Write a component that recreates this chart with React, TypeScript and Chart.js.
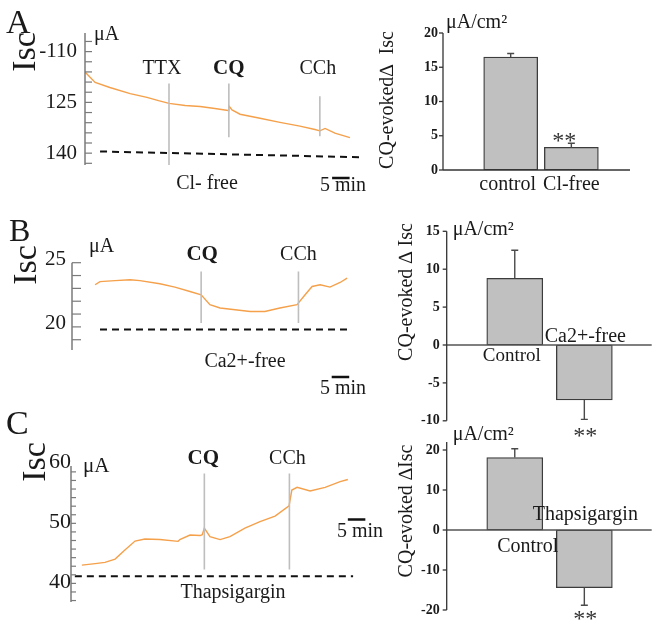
import React, { useEffect, useRef } from 'react';
import { Chart, registerables } from 'chart.js';

Chart.register(...registerables);

const W = 658;
const H = 627;
const SERIF = '"Liberation Serif", "Times New Roman", Times, serif';
const ORANGE = '#F5A04A';
const EVENT_GRAY = '#BEBEBE';
const INK = '#1a1a1a';

// ---------------- DATA ----------------
// Panel A – trace (time in min, Isc in µA)
const traceATime = [0, 2.9, 7.1, 12.9, 17.7, 21, 24, 28.6, 32.9, 37.1, 40.9, 41.1, 42, 44.3, 50, 55.7, 61.4, 65.7, 67.1, 68.6, 71.4, 75.7];
const traceAValue = [116, 119.1, 120.6, 122.4, 123.5, 124.5, 125.3, 125.9, 126.2, 126.8, 127.4, 126.0, 127.2, 128.5, 129.7, 130.9, 132, 133, 133.4, 132.7, 134.1, 135.4];
const eventALabels = ['TTX', 'CQ', 'CCh'];
const eventATime = [24, 41.1, 67.1];
const eventATop = [119.4, 119.4, 123.2];
const eventABottom = [143.5, 135.3, 135.0];
const baselineATime = [4.3, 78.6];
const baselineAValue = [139.5, 141.2];
const tickAValues = [110, 125, 140];
const tickALabels = ['-110', '125', '140'];
const conditionA = 'Cl- free';

// Panel B – trace
const traceBTime = [6.6, 8, 12.3, 16.6, 19.4, 25.1, 29.4, 33.7, 36.9, 39.4, 42.3, 46.6, 50.9, 55.1, 59.4, 64.3, 66.6, 68.6, 70.9, 73.7, 76.6, 78.6];
const traceBValue = [23.28, 23.53, 23.6, 23.67, 23.6, 23.36, 23.1, 22.76, 22.5, 21.73, 21.47, 21.34, 21.2, 21.2, 21.47, 21.73, 22.5, 23.15, 23.28, 23.1, 23.46, 23.8];
const eventBLabels = ['CQ', 'CCh'];
const eventBTime = [36.9, 64.7];
const eventBTop = [24.31, 24.31];
const eventBBottom = [20.31, 20.31];
const baselineBTime = [8, 78.9];
const baselineBValue = [19.79, 19.79];
const tickBValues = [25, 20];
const tickBLabels = ['25', '20'];
const conditionB = 'Ca2+-free';

// Panel C – trace
const traceCTime = [3.1, 6.9, 9.7, 12.6, 15.4, 18.3, 21.1, 25.4, 30.6, 31.1, 34, 36.9, 37.5, 38.1, 39.7, 42.6, 45.4, 49.7, 54, 58.3, 62.3, 63.1, 64.6, 68.3, 72.6, 76.9, 79.1];
const traceCValue = [43.05, 43.3, 43.5, 44.05, 45.55, 47.05, 47.4, 47.3, 47.0, 47.3, 48.05, 47.97, 48.1, 49.2, 47.8, 47.3, 47.8, 49.2, 50.3, 51.2, 52.9, 55.55, 56, 55.4, 56, 56.95, 57.3];
const eventCLabels = ['CQ', 'CCh'];
const eventCTime = [38.1, 62.4];
const eventCTop = [58.3, 58.3];
const eventCBottom = [42.3, 42.3];
const baselineCTime = [1.1, 80.6];
const baselineCValue = [41.2, 41.2];
const tickCValues = [60, 50, 40];
const tickCLabels = ['60', '50', '40'];
const conditionC = 'Thapsigargin';

// Bar charts (CQ-evoked ΔIsc, µA/cm²)
const barACategories = ['control', 'Cl-free'];
const barAValues = [16.5, 3.3];
const barAErrors = [0.5, 0.6];
const barATicks = [20, 15, 10, 5, 0];

const barBCategories = ['Control', 'Ca2+-free'];
const barBValues = [8.8, -7.26];
const barBErrors = [3.7, 2.55];
const barBTicks = [15, 10, 5, 0, -5, -10];

const barCCategories = ['Control', 'Thapsigargin'];
const barCValues = [18.1, -14.4];
const barCErrors = [2.2, 4.4];
const barCTicks = [20, 10, 0, -10, -20];

const SCALE_BAR_MIN = 5;

// ---------------- HELPERS ----------------
const font = (size: number, weight = 'normal') => `${weight} ${size}px ${SERIF}`;

function drawText(ctx: any, t: any) {
  ctx.save();
  ctx.fillStyle = t.color || INK;
  ctx.font = t.font;
  if (t.rotate) {
    ctx.translate(t.x, t.y);
    ctx.rotate(-Math.PI / 2);
    ctx.textAlign = 'center';
    ctx.textBaseline = 'middle';
    ctx.fillText(t.text, 0, 0);
  } else {
    ctx.textAlign = t.align || 'left';
    ctx.textBaseline = t.baseline || 'alphabetic';
    ctx.fillText(t.text, t.x, t.y);
  }
  ctx.restore();
}

function pts(xs: number[], ys: number[]) {
  return xs.map((x, i) => ({ x, y: ys[i] }));
}

function traceConfig(spec: any) {
  const datasets: any[] = [];
  spec.eventTime.forEach((t: number, i: number) => {
    datasets.push({
      data: [{ x: t, y: spec.eventTop[i] }, { x: t, y: spec.eventBottom[i] }],
      borderColor: EVENT_GRAY, borderWidth: 1.6, pointRadius: 0,
    });
  });
  datasets.push({
    data: pts(spec.baseTime, spec.baseValue),
    borderColor: '#111', borderWidth: 2, borderDash: [7, 5], pointRadius: 0,
  });
  datasets.push({
    data: pts(spec.time, spec.value),
    borderColor: ORANGE, borderWidth: 1.4, pointRadius: 0, tension: 0,
  });

  const plugin = {
    id: 'traceDecor',
    afterDatasetsDraw(chart: any) {
      const ctx = chart.ctx;
      const xs = chart.scales.x;
      const ys = chart.scales.y;
      const a = chart.chartArea;
      ctx.save();
      ctx.strokeStyle = '#7a7a7a';
      ctx.lineWidth = 1.5;
      ctx.beginPath();
      ctx.moveTo(a.left, a.top);
      ctx.lineTo(a.left, a.bottom);
      ctx.stroke();
      ctx.lineWidth = 1.2;
      spec.minorTicks.forEach((v: number) => {
        const y = ys.getPixelForValue(v);
        ctx.beginPath();
        ctx.moveTo(a.left, y);
        ctx.lineTo(a.left + spec.tickLen, y);
        ctx.stroke();
      });
      ctx.fillStyle = INK;
      ctx.font = font(spec.labelSize);
      ctx.textAlign = 'right';
      ctx.textBaseline = 'middle';
      spec.tickValues.forEach((v: number, i: number) => {
        ctx.fillText(spec.tickLabels[i], spec.labelRight, ys.getPixelForValue(v) + spec.labelDy);
      });
      // event labels
      spec.eventLabels.forEach((lab: string, i: number) => {
        drawText(ctx, {
          text: lab,
          x: xs.getPixelForValue(spec.eventTime[i]) + spec.eventDx[i],
          y: spec.eventY,
          font: lab === 'CQ' ? font(21, 'bold') : font(20),
          align: 'center',
        });
      });
      // scale bar
      const x1 = xs.getPixelForValue(spec.scaleStart);
      const x2 = xs.getPixelForValue(spec.scaleStart + SCALE_BAR_MIN);
      ctx.strokeStyle = '#111';
      ctx.lineWidth = 2.5;
      ctx.beginPath();
      ctx.moveTo(x1, spec.scaleY);
      ctx.lineTo(x2, spec.scaleY);
      ctx.stroke();
      spec.texts.forEach((t: any) => drawText(ctx, t));
      ctx.restore();
    },
  };

  return {
    type: 'line',
    data: { datasets },
    options: {
      animation: false,
      responsive: false,
      devicePixelRatio: 1,
      layout: { padding: { left: spec.left, right: W - spec.right, top: spec.top, bottom: H - spec.bottom } },
      plugins: { legend: { display: false }, tooltip: { enabled: false } },
      scales: {
        x: { type: 'linear', display: false, min: 0, max: (spec.right - spec.left) / spec.pxPerMin },
        y: { type: 'linear', display: false, min: spec.yMin, max: spec.yMax, reverse: !!spec.reverse },
      },
    },
    plugins: [plugin],
  };
}

function barConfig(spec: any) {
  const plugin = {
    id: 'barDecor',
    afterDatasetsDraw(chart: any) {
      const ctx = chart.ctx;
      const ys = chart.scales.y;
      const a = chart.chartArea;
      const meta = chart.getDatasetMeta(0);
      ctx.save();
      // zero / x axis line
      const y0 = ys.getPixelForValue(0);
      ctx.strokeStyle = spec.zeroColor;
      ctx.lineWidth = 1.3;
      ctx.beginPath();
      ctx.moveTo(a.left, y0);
      ctx.lineTo(a.right, y0);
      ctx.stroke();
      // y axis
      ctx.strokeStyle = '#333';
      ctx.lineWidth = 1.3;
      ctx.beginPath();
      ctx.moveTo(a.left, a.top);
      ctx.lineTo(a.left, a.bottom);
      ctx.stroke();
      ctx.fillStyle = INK;
      ctx.font = font(14, 'bold');
      ctx.textAlign = 'right';
      ctx.textBaseline = 'middle';
      spec.ticks.forEach((v: number) => {
        const y = ys.getPixelForValue(v);
        ctx.beginPath();
        ctx.moveTo(a.left - 4, y);
        ctx.lineTo(a.left, y);
        ctx.stroke();
        ctx.fillText(String(v), a.left - spec.labelGap, y);
      });
      // error bars
      ctx.strokeStyle = '#4a4a4a';
      ctx.lineWidth = 1.4;
      meta.data.forEach((el: any, i: number) => {
        const v = spec.values[i];
        const dir = v >= 0 ? 1 : -1;
        const ya = ys.getPixelForValue(v);
        const yb = ys.getPixelForValue(v + dir * spec.errors[i]);
        ctx.beginPath();
        ctx.moveTo(el.x, ya);
        ctx.lineTo(el.x, yb);
        ctx.moveTo(el.x - 3.5, yb);
        ctx.lineTo(el.x + 3.5, yb);
        ctx.stroke();
      });
      // category labels and stars
      meta.data.forEach((el: any, i: number) => {
        drawText(ctx, {
          text: spec.categories[i],
          x: el.x + spec.catDx[i],
          y: spec.catY[i],
          font: font(spec.catSize[i]),
          align: 'center',
        });
      });
      const starEl = meta.data[1];
      drawText(ctx, { text: '**', x: starEl.x + spec.starDx, y: spec.starY, font: font(24), align: 'center', color: '#333' });
      spec.texts.forEach((t: any) => drawText(ctx, t));
      ctx.restore();
    },
  };

  return {
    type: 'bar',
    data: {
      datasets: [{
        data: spec.values.map((v: number, i: number) => ({ x: i + 1, y: v })),
        backgroundColor: '#C0C0C0',
        borderColor: '#3c3c3c',
        borderWidth: 1.3,
        borderSkipped: false,
        barThickness: spec.barWidth,
      }],
    },
    options: {
      animation: false,
      responsive: false,
      devicePixelRatio: 1,
      layout: { padding: { left: spec.left, right: W - spec.right, top: spec.top, bottom: H - spec.bottom } },
      plugins: { legend: { display: false }, tooltip: { enabled: false } },
      scales: {
        x: { type: 'linear', display: false, min: spec.xMin, max: spec.xMax },
        y: { type: 'linear', display: false, min: spec.yMin, max: spec.yMax },
      },
    },
    plugins: [plugin],
  };
}

function range(start: number, end: number, step: number) {
  const out: number[] = [];
  for (let k = 0; start + k * step <= end + 1e-9; k++) out.push(start + k * step);
  return out;
}

// ---------------- CONFIGS ----------------
function buildConfigs() {
  const tA = traceConfig({
    left: 85, right: 360, top: 33, bottom: 165, pxPerMin: 3.5,
    yMin: 104.5, yMax: 143.5, reverse: true,
    time: traceATime, value: traceAValue,
    eventLabels: eventALabels, eventTime: eventATime, eventTop: eventATop, eventBottom: eventABottom,
    eventDx: [-7, 0, -2], eventY: 74,
    baseTime: baselineATime, baseValue: baselineAValue,
    minorTicks: range(107, 143, 3), tickLen: 7,
    tickValues: tickAValues, tickLabels: tickALabels, labelRight: 77, labelDy: 0, labelSize: 21,
    scaleStart: 70.6, scaleY: 178,
    texts: [
      { text: 'A', x: 6, y: 33, font: font(34) },
      { text: 'Isc', x: 26, y: 52, font: font(34), rotate: true },
      { text: 'μA', x: 94, y: 40, font: font(20) },
      { text: conditionA, x: 207, y: 189, font: font(20), align: 'center' },
      { text: '5 min', x: 320, y: 191, font: font(20) },
    ],
  });
  const tB = traceConfig({
    left: 72, right: 360, top: 262.7, bottom: 350, pxPerMin: 3.5,
    yMin: 18.2, yMax: 25, reverse: false,
    time: traceBTime, value: traceBValue,
    eventLabels: eventBLabels, eventTime: eventBTime, eventTop: eventBTop, eventBottom: eventBBottom,
    eventDx: [1, 0], eventY: 260,
    baseTime: baselineBTime, baseValue: baselineBValue,
    minorTicks: range(19, 25, 1), tickLen: 9,
    tickValues: tickBValues, tickLabels: tickBLabels, labelRight: 66, labelDy: -3, labelSize: 21,
    scaleStart: 74.2, scaleY: 377,
    texts: [
      { text: 'B', x: 9, y: 241, font: font(32) },
      { text: 'Isc', x: 27, y: 265, font: font(34), rotate: true },
      { text: 'μA', x: 89, y: 252, font: font(20) },
      { text: conditionB, x: 245, y: 367, font: font(20), align: 'center' },
      { text: '5 min', x: 320, y: 394, font: font(20) },
    ],
  });
  const tC = traceConfig({
    left: 71, right: 372, top: 466, bottom: 602, pxPerMin: 3.5,
    yMin: 36.9, yMax: 59.55, reverse: false,
    time: traceCTime, value: traceCValue,
    eventLabels: eventCLabels, eventTime: eventCTime, eventTop: eventCTop, eventBottom: eventCBottom,
    eventDx: [-1, -2], eventY: 464,
    baseTime: baselineCTime, baseValue: baselineCValue,
    minorTicks: range(40 - 2 * (10 / 7), 59.5, 10 / 7), tickLen: 5,
    tickValues: tickCValues, tickLabels: tickCLabels, labelRight: 71, labelDy: -1, labelSize: 22,
    scaleStart: 79.1, scaleY: 519.5,
    texts: [
      { text: 'C', x: 6, y: 434, font: font(34) },
      { text: 'Isc', x: 36, y: 462, font: font(34), rotate: true },
      { text: 'μA', x: 83, y: 472, font: font(21) },
      { text: conditionC, x: 233, y: 598, font: font(20), align: 'center' },
      { text: '5 min', x: 337, y: 537, font: font(20) },
    ],
  });

  const bA = barConfig({
    left: 443, right: 630, top: 33, bottom: 170,
    xMin: 0.398, xMax: 2.453, yMin: 0, yMax: 20, barWidth: 54,
    values: barAValues, errors: barAErrors, categories: barACategories, ticks: barATicks,
    catDx: [-3, 0], catY: [190, 190], catSize: [20, 20],
    starDx: -7, starY: 148, labelGap: 5, zeroColor: '#333',
    texts: [
      { text: 'μA/cm²', x: 446, y: 28, font: font(20) },
      { text: 'CQ-evoked∆  Isc', x: 388, y: 100, font: font(20), rotate: true },
    ],
  });
  const bB = barConfig({
    left: 446.7, right: 651.7, top: 231.3, bottom: 420.8,
    xMin: 0.39, xMax: 2.6, yMin: -10, yMax: 15, barWidth: 56,
    values: barBValues, errors: barBErrors, categories: barBCategories, ticks: barBTicks,
    catDx: [-3, 1], catY: [361, 342], catSize: [19, 20],
    starDx: 1, starY: 443, labelGap: 7, zeroColor: '#555',
    texts: [
      { text: 'μA/cm²', x: 452.7, y: 235, font: font(20) },
      { text: 'CQ-evoked ∆ Isc', x: 406.7, y: 292, font: font(20), rotate: true },
    ],
  });
  const bC = barConfig({
    left: 446.7, right: 651.7, top: 442, bottom: 610,
    xMin: 0.39, xMax: 2.6, yMin: -20, yMax: 22, barWidth: 56,
    values: barCValues, errors: barCErrors, categories: barCCategories, ticks: barCTicks,
    catDx: [13, 1], catY: [552, 520], catSize: [20, 20],
    starDx: 1, starY: 626, labelGap: 7, zeroColor: '#555',
    texts: [
      { text: 'μA/cm²', x: 452.7, y: 440, font: font(20) },
      { text: 'CQ-evoked ∆Isc', x: 406.7, y: 511, font: font(20), rotate: true },
    ],
  });
  return [tA, tB, tC, bA, bB, bC];
}

function ChartLayer({ index }: { index: number }) {
  const ref = useRef<HTMLCanvasElement | null>(null);
  useEffect(() => {
    const cfg = buildConfigs()[index];
    const chart = new Chart(ref.current as any, cfg as any);
    return () => chart.destroy();
  }, [index]);
  return (
    <canvas
      ref={ref}
      width={W}
      height={H}
      style={{ position: 'absolute', left: 0, top: 0, width: W, height: H }}
    />
  );
}

export default function App() {
  return (
    <div style={{ position: 'fixed', left: 0, top: 0, width: W, height: H, background: '#fff', overflow: 'hidden' }}>
      {[0, 1, 2, 3, 4, 5].map((i) => (
        <ChartLayer key={i} index={i} />
      ))}
    </div>
  );
}
